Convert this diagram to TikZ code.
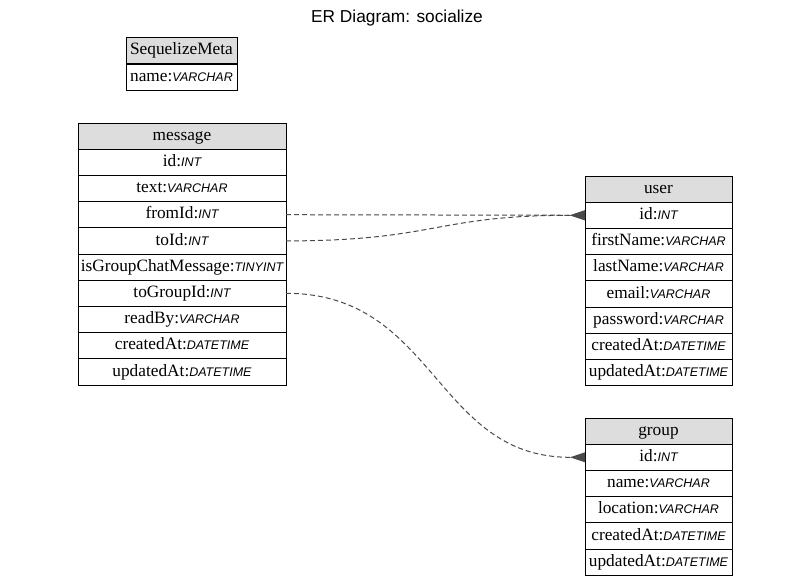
\documentclass[tikz,border=0pt]{standalone}
\usepackage{fontspec}
\setmainfont{Liberation Serif}
\newfontfamily\typefont{Liberation Sans}
\usetikzlibrary{arrows.meta}
\definecolor{hdrgray}{HTML}{DDDDDD}
\definecolor{edgegray}{HTML}{4A4A4A}
\newcommand{\ty}[1]{{\fontsize{12.5}{14}\typefont\itshape #1}}
\begin{document}
\begin{tikzpicture}[x=1pt,y=-1pt,
  cell/.style={draw, line width=0.9pt, rectangle, inner sep=0pt, outer sep=0pt,
    minimum height=26.2pt, text height=12.3pt, text depth=3.9pt,
    font=\fontsize{17.3}{20}\selectfont},
  hdr/.style={cell, fill=hdrgray},
  wS/.style={minimum width=111pt},
  wM/.style={minimum width=208pt},
  wU/.style={minimum width=147pt},
  rel/.style={draw=edgegray, line width=1pt, dash pattern=on 5pt off 3pt,
    -{Triangle[reversed, length=15pt, width=10pt, fill=edgegray, line width=0pt, sep=0pt]}},
  ttl/.style={font=\fontsize{17.3}{20}\typefont}
]
\useasboundingbox (0,0) rectangle (793,586);
\node[ttl] (title) at (397,18) {ER Diagram: socialize};

% SequelizeMeta
\node[hdr,wS] (s-h) at (181.5,50.6) {SequelizeMeta};
\node[cell,wS] (s-name) at (181.5,77.4) {name:\ty{VARCHAR}};

% message
\node[hdr,wM]  (m-h)      at (182,136.1) {message};
\node[cell,wM] (m-id)     at (182,162.3) {id:\ty{INT}};
\node[cell,wM] (m-text)   at (182,188.5) {text:\ty{VARCHAR}};
\node[cell,wM] (m-fromId) at (182,214.7) {fromId:\ty{INT}};
\node[cell,wM] (m-toId)   at (182,240.9) {toId:\ty{INT}};
\node[cell,wM] (m-isg)    at (182,267.1) {isGroupChatMessage:\ty{TINYINT}};
\node[cell,wM] (m-toGroupId) at (182,293.3) {toGroupId:\ty{INT}};
\node[cell,wM] (m-readBy) at (182,319.5) {readBy:\ty{VARCHAR}};
\node[cell,wM] (m-created) at (182,345.7) {createdAt:\ty{DATETIME}};
\node[cell,wM] (m-updated) at (182,371.9) {updatedAt:\ty{DATETIME}};

% user
\node[hdr,wU]  (u-h)     at (658.5,189.1) {user};
\node[cell,wU] (u-id)    at (658.5,215.3) {id:\ty{INT}};
\node[cell,wU] (u-first) at (658.5,241.5) {firstName:\ty{VARCHAR}};
\node[cell,wU] (u-last)  at (658.5,267.7) {lastName:\ty{VARCHAR}};
\node[cell,wU] (u-email) at (658.5,293.9) {email:\ty{VARCHAR}};
\node[cell,wU] (u-pass)  at (658.5,320.1) {password:\ty{VARCHAR}};
\node[cell,wU] (u-created) at (658.5,346.3) {createdAt:\ty{DATETIME}};
\node[cell,wU] (u-updated) at (658.5,372.5) {updatedAt:\ty{DATETIME}};

% group
\node[hdr,wU]  (g-h)     at (658.5,431.1) {group};
\node[cell,wU] (g-id)    at (658.5,457.3) {id:\ty{INT}};
\node[cell,wU] (g-name)  at (658.5,483.5) {name:\ty{VARCHAR}};
\node[cell,wU] (g-loc)   at (658.5,509.7) {location:\ty{VARCHAR}};
\node[cell,wU] (g-created) at (658.5,535.9) {createdAt:\ty{DATETIME}};
\node[cell,wU] (g-updated) at (658.5,562.1) {updatedAt:\ty{DATETIME}};

% relations
\draw[rel] (m-fromId.east) -- (u-id.west);
\draw[rel] (m-toId.east) .. controls +(150,0) and +(-150,0) .. (u-id.west);
\draw[rel] (m-toGroupId.east) .. controls +(150,0) and +(-150,0) .. (g-id.west);
\end{tikzpicture}
\end{document}
